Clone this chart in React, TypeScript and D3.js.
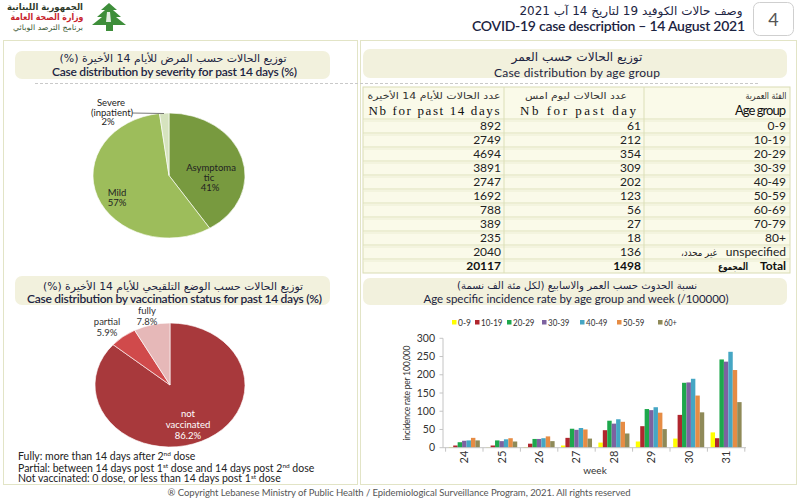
import React from "react";
import * as d3 from "d3";

// ---------- DATA ----------
const severityLabels = ["Asymptomatic", "Mild", "Severe (inpatient)"];
const severityValues = [41, 57, 2];
const severityColors = ["#789a3f", "#9dbd5b", "#d6e3bf"];

const vaccinationLabels = ["not vaccinated", "partial", "fully"];
const vaccinationValues = [86.2, 5.9, 7.8];
const vaccinationColors = ["#a8393c", "#d04a4b", "#e6b8b8"];

const ageGroups = ["0-9", "10-19", "20-29", "30-39", "40-49", "50-59", "60-69", "70-79", "80+", "unspecified"];
const past14Days = [892, 2749, 4694, 3891, 2747, 1692, 788, 389, 235, 2040];
const pastDay = [61, 212, 354, 309, 202, 123, 56, 27, 18, 136];
const total14Days = 20117;
const totalPastDay = 1498;

const weeks = ["24", "25", "26", "27", "28", "29", "30", "31"];
const incidenceSeries = ["0-9", "10-19", "20-29", "30-39", "40-49", "50-59", "60+"];
const inc0to9 = [2, 1, 2, 6, 14, 17, 25, 42];
const inc10to19 = [6, 6, 11, 27, 48, 59, 90, 26];
const inc20to29 = [15, 20, 24, 52, 74, 106, 178, 242];
const inc30to39 = [19, 18, 24, 49, 66, 103, 179, 236];
const inc40to49 = [20, 23, 26, 54, 78, 111, 189, 263];
const inc50to59 = [27, 26, 31, 50, 71, 96, 143, 213];
const inc60plus = [20, 17, 18, 25, 39, 51, 97, 125];
const incidenceValues = [inc0to9, inc10to19, inc20to29, inc30to39, inc40to49, inc50to59, inc60plus];
const incidenceColors = ["#ffff00", "#b0262e", "#1da84c", "#7d62a0", "#45a6c4", "#e68c44", "#8f8a58"];
const yTicks = [0, 50, 100, 150, 200, 250, 300];

// ---------- STYLE ----------
const AR = "'DejaVu Sans', sans-serif";
const SANS = "Lato, 'Open Sans', sans-serif";
const SERIF = "'Liberation Serif', 'DejaVu Serif', serif";
const NAVY = "#1c2442";
const FRAME = "#e2e4c6";
const TITLEBOX = "#f2f1dd";

function Ar(props: { x: number; y: number; text: string; size: number; len?: number; color?: string; weight?: any }) {
  const { x, y, text, size, len, color = NAVY, weight = "normal" } = props;
  return (
    <text x={x} y={y} direction="rtl" textAnchor="middle" fontFamily={AR} fontSize={size} fill={color}
      fontWeight={weight} textLength={len} lengthAdjust="spacingAndGlyphs">{text}</text>
  );
}

function EllipsePie(props: { cx: number; cy: number; rx: number; ry: number; values: number[]; colors: string[] }) {
  const { cx, cy, rx, ry, values, colors } = props;
  const arcs = d3.pie<number>().sort(null).value((d) => d)(values);
  const arcGen = d3.arc<d3.PieArcDatum<number>>().innerRadius(0).outerRadius(rx);
  return (
    <g transform={`translate(${cx},${cy}) scale(1,${ry / rx})`}>
      {arcs.map((a, i) => (
        <path key={i} d={arcGen(a) as string} fill={colors[i]} stroke="#ffffff" strokeWidth={0.7} />
      ))}
    </g>
  );
}

function Table() {
  const x0 = 363, x1 = 790, c1 = 504, c2 = 644;
  const top = 87, headH = 32, rowH = 14;
  const n = ageGroups.length + 1;
  const bottom = top + headH + rowH * n;
  const rowY = (i: number) => top + headH + rowH * i;
  return (
    <g>
      <rect x={x0} y={top} width={x1 - x0} height={bottom - top} fill="#fafae9" stroke="#d9dcb4" />
      {d3.range(n).map((i) => (
        <g key={i}>
          <line x1={x0} x2={x1} y1={rowY(i)} y2={rowY(i)} stroke="#dfe2bd" strokeWidth={1} />
          <line x1={x0} x2={x1} y1={rowY(i) + 2} y2={rowY(i) + 2} stroke="#eceed4" strokeWidth={1} />
        </g>
      ))}
      <line x1={c1} x2={c1} y1={top} y2={bottom} stroke="#dcdfb8" />
      <line x1={c2} x2={c2} y1={top} y2={bottom} stroke="#dcdfb8" />
      <Ar x={434} y={99} text="عدد الحالات للأيام 14 الأخيرة" size={9.5} len={133} color="#333" />
      <Ar x={576} y={99} text="عدد الحالات ليوم امس" size={9.5} len={102} color="#333" />
      <Ar x={766} y={99} text="الفئة العمرية" size={9.5} len={41} color="#333" />
      <text x={434} y={115} textAnchor="middle" fontFamily={SERIF} fontSize={13} fill="#111" textLength={131} lengthAdjust="spacing">Nb for past 14 days</text>
      <text x={578} y={115} textAnchor="middle" fontFamily={SERIF} fontSize={13} fill="#111" textLength={116} lengthAdjust="spacing">Nb for past day</text>
      <text x={786} y={115} textAnchor="end" fontFamily={SANS} fontSize={13} fill="#111" textLength={51} lengthAdjust="spacing">Age group</text>
      {ageGroups.map((g, i) => {
        const yy = rowY(i) + 11;
        return (
          <g key={g} fontFamily={SANS} fontSize={12} fill="#222">
            <text x={501} y={yy} textAnchor="end">{past14Days[i]}</text>
            <text x={641} y={yy} textAnchor="end">{pastDay[i]}</text>
            {g === "unspecified" ? (
              <>
                <text x={786} y={yy} textAnchor="end">unspecified</text>
                <Ar x={699} y={yy} text="غير محدد،" size={10} len={36} color="#222" />
              </>
            ) : (
              <text x={786} y={yy} textAnchor="end">{g}</text>
            )}
          </g>
        );
      })}
      <g fontFamily={SANS} fontSize={12} fill="#111" fontWeight="bold">
        <text x={501} y={rowY(n - 1) + 11} textAnchor="end">{total14Days}</text>
        <text x={641} y={rowY(n - 1) + 11} textAnchor="end">{totalPastDay}</text>
        <text x={786} y={rowY(n - 1) + 11} textAnchor="end">Total</text>
      </g>
      <Ar x={733} y={rowY(n - 1) + 11} text="المجموع" size={10} len={30} color="#111" weight="bold" />
    </g>
  );
}

function IncidenceChart() {
  const x0 = d3.scaleBand<string>().domain(weeks).range([445.6, 744.8]).paddingInner(0.17).paddingOuter(0.085);
  const x1 = d3.scaleBand<string>().domain(incidenceSeries).range([0, x0.bandwidth()]);
  const y = d3.scaleLinear().domain([0, 300]).range([447.7, 338.3]);
  const step = x0.step();
  const legendX = [452, 475, 507, 542, 580, 617, 658];
  const boundaries = weeks.map((w) => (x0(w) as number) - (step * 0.17) / 2).concat([(x0(weeks[weeks.length - 1]) as number) + x0.bandwidth() + (step * 0.17) / 2]);
  return (
    <g>
      {incidenceSeries.map((s, i) => (
        <g key={s}>
          <rect x={legendX[i]} y={320} width={4.5} height={4.5} fill={incidenceColors[i]} />
          <text x={legendX[i] + 6} y={326} fontFamily={SANS} fontSize={9.5} fill="#333" textLength={s.length * 4.3} lengthAdjust="spacingAndGlyphs">{s}</text>
        </g>
      ))}
      {/* axes */}
      <line x1={443} x2={443} y1={y(300)} y2={y(0)} stroke="#c4c4c4" />
      {yTicks.map((t) => (
        <g key={t}>
          <line x1={439.5} x2={443} y1={y(t)} y2={y(t)} stroke="#c4c4c4" />
          <text x={435} y={y(t)} dy="0.35em" textAnchor="end" fontFamily={SANS} fontSize={10.5} fill="#333">{t}</text>
        </g>
      ))}
      <text transform={`translate(410,${(y(0) + y(300)) / 2}) rotate(-90)`} textAnchor="middle" fontFamily={SANS} fontSize={8.5} fill="#333" textLength={95} lengthAdjust="spacing">incidence rate per 100,000</text>
      {incidenceSeries.map((s, si) => (
        <g key={s} fill={incidenceColors[si]}>
          {weeks.map((w, wi) => {
            const v = incidenceValues[si][wi];
            return (
              <rect key={w} x={(x0(w) as number) + (x1(s) as number)} y={y(v)} width={x1.bandwidth()} height={y(0) - y(v)} />
            );
          })}
        </g>
      ))}
      <line x1={443} x2={746} y1={y(0)} y2={y(0)} stroke="#c4c4c4" />
      {boundaries.map((b, i) => (
        <line key={i} x1={b} x2={b} y1={y(0)} y2={y(0) + 4} stroke="#c4c4c4" />
      ))}
      {weeks.map((w) => (
        <text key={w} transform={`translate(${(x0(w) as number) + x0.bandwidth() / 2},457) rotate(-90)`} textAnchor="middle" dy="0.35em" fontFamily={SANS} fontSize={11} fill="#333">{w}</text>
      ))}
      <text x={595} y={474} textAnchor="middle" fontFamily={SANS} fontSize={10} fill="#333">week</text>
    </g>
  );
}

export default function App() {
  return (
    <svg width={800} height={500} viewBox="0 0 800 500" style={{ position: "absolute", left: 0, top: 0, background: "#fff" }}>
      <rect x={0} y={0} width={800} height={500} fill="#ffffff" />
      {/* header logo */}
      <Ar x={45} y={10} text="الجمهورية اللبنانية" size={9} len={76} color="#2e3a2a" weight="bold" />
      <Ar x={47} y={20} text="وزارة الصحة العامة" size={9} len={73} color="#c8232c" weight="bold" />
      <Ar x={48} y={30} text="برنامج الترصد الوبائي" size={7.5} len={70} color="#3c5a36" />
      <g fill="#3e8e3a">
        <path d="M109,3 L117,10 L113,10 L121,17 L116,17 L126,25 L113,25 L113,31 L106,31 L106,25 L92,25 L102,17 L97,17 L105,10 L101,10 Z" />
      </g>
      <g fill="#ffffff" opacity={0.85}>
        <path d="M107,12 L110,12 L111,22 L106,22 Z" />
      </g>
      {/* header title */}
      <Ar x={631} y={15} text="وصف حالات الكوفيد 19 لتاريخ 14 آب 2021" size={11.5} len={223} color={NAVY} />
      <text x={745} y={31} textAnchor="end" fontFamily={SANS} fontSize={14} fontWeight={600} fill={NAVY} textLength={273} lengthAdjust="spacing">COVID-19 case description – 14 August 2021</text>
      <rect x={753.5} y={2.5} width={40} height={33} rx={6} fill="#fff" stroke="#cfcfcf" />
      <text x={773.5} y={25.5} textAnchor="middle" fontFamily={SANS} fontSize={18} fill="#555">4</text>

      {/* frames */}
      <rect x={3.5} y={40.5} width={354} height={444} fill="none" stroke={FRAME} />
      <rect x={360.5} y={40.5} width={436} height={444} fill="none" stroke={FRAME} />

      {/* title boxes */}
      <rect x={15} y={51} width={315} height={28} rx={7} fill={TITLEBOX} />
      <rect x={363} y={49} width={424} height={29} rx={7} fill={TITLEBOX} />
      <rect x={15} y={276} width={315} height={29} rx={7} fill={TITLEBOX} />
      <rect x={363} y={278} width={424} height={27} rx={7} fill={TITLEBOX} />
      <line x1={35} x2={760} y1={83.5} y2={83.5} stroke="#c9c9c9" strokeDasharray="3,2" />

      {/* severity panel */}
      <Ar x={173} y={62} text="توزيع الحالات حسب المرض للأيام 14 الأخيرة (%)" size={10.5} len={227} color={NAVY} />
      <text x={174.5} y={75.5} textAnchor="middle" fontFamily={SANS} fontSize={12} fontWeight={600} fill={NAVY} textLength={245} lengthAdjust="spacing">Case distribution by severity for past 14 days (%)</text>
      <EllipsePie cx={169} cy={175.5} rx={76} ry={62.5} values={severityValues} colors={severityColors} />
      <g fontFamily={SANS} fontSize={9.5} fill="#222" textAnchor="middle">
        <text x={211} y={171}>Asymptoma</text>
        <text x={209} y={180.5}>tic</text>
        <text x={210} y={190.5}>{severityValues[0]}%</text>
        <text x={117} y={196}>Mild</text>
        <text x={117} y={206}>{severityValues[1]}%</text>
        <text x={111} y={106}>Severe</text>
        <text x={112} y={115.5}>(inpatient)</text>
        <text x={108} y={125}>{severityValues[2]}%</text>
      </g>
      <line x1={132} x2={164} y1={113} y2={113.5} stroke="#555" strokeWidth={0.8} />

      {/* age table panel */}
      <Ar x={577} y={61} text="توزيع الحالات حسب العمر" size={11.5} len={131} color={NAVY} />
      <text x={577} y={77} textAnchor="middle" fontFamily={SANS} fontSize={12} fill={NAVY} textLength={166} lengthAdjust="spacing">Case distribution by age group</text>
      <Table />

      {/* vaccination panel */}
      <Ar x={173} y={289.5} text="توزيع الحالات حسب الوضع التلقيحي للأيام 14 الأخيرة (%)" size={10.5} len={260} color={NAVY} />
      <text x={174.5} y={303} textAnchor="middle" fontFamily={SANS} fontSize={12} fontWeight={600} fill={NAVY} textLength={295} lengthAdjust="spacing">Case distribution by vaccination status for past 14 days (%)</text>
      <EllipsePie cx={170} cy={385} rx={75} ry={62} values={vaccinationValues} colors={vaccinationColors} />
      <g fontFamily={SANS} fontSize={9.5} textAnchor="middle">
        <text x={188} y={416.5} fill="#fff">not</text>
        <text x={188} y={427.5} fill="#fff">vaccinated</text>
        <text x={188} y={438.5} fill="#fff">{vaccinationValues[0]}%</text>
        <text x={107} y={324.5} fill="#333">{vaccinationLabels[1]}</text>
        <text x={107} y={335.5} fill="#333">{vaccinationValues[1]}%</text>
        <text x={147} y={314} fill="#333">{vaccinationLabels[2]}</text>
        <text x={147} y={324.5} fill="#333">{vaccinationValues[2]}%</text>
      </g>
      <g fontFamily={SANS} fontSize={10.5} fill="#222">
        <text x={18} y={459.5}>Fully: more than 14 days after 2<tspan fontSize={6.5} dy={-3.5}>nd</tspan><tspan dy={3.5}> dose</tspan></text>
        <text x={18} y={471.5}>Partial: between 14 days post 1<tspan fontSize={6.5} dy={-3.5}>st</tspan><tspan dy={3.5}> dose and 14 days post 2</tspan><tspan fontSize={6.5} dy={-3.5}>nd</tspan><tspan dy={3.5}> dose</tspan></text>
        <text x={18} y={482}>Not vaccinated: 0 dose, or less than 14 days post 1<tspan fontSize={6.5} dy={-3.5}>st</tspan><tspan dy={3.5}> dose</tspan></text>
      </g>

      {/* incidence panel */}
      <Ar x={577} y={289} text="نسبة الحدوث حسب العمر والاسابيع (لكل مئة الف نسمة)" size={10} len={240} color={NAVY} />
      <text x={576} y={303} textAnchor="middle" fontFamily={SANS} fontSize={11.5} fill={NAVY} textLength={305} lengthAdjust="spacing">Age specific incidence rate by age group and week (/100000)</text>
      <IncidenceChart />

      {/* footer */}
      <text x={399} y={496} textAnchor="middle" fontFamily={SANS} fontSize={9.5} fill="#555" textLength={463} lengthAdjust="spacing">® Copyright Lebanese Ministry of Public Health / Epidemiological Surveillance Program, 2021. All rights reserved</text>
    </svg>
  );
}
